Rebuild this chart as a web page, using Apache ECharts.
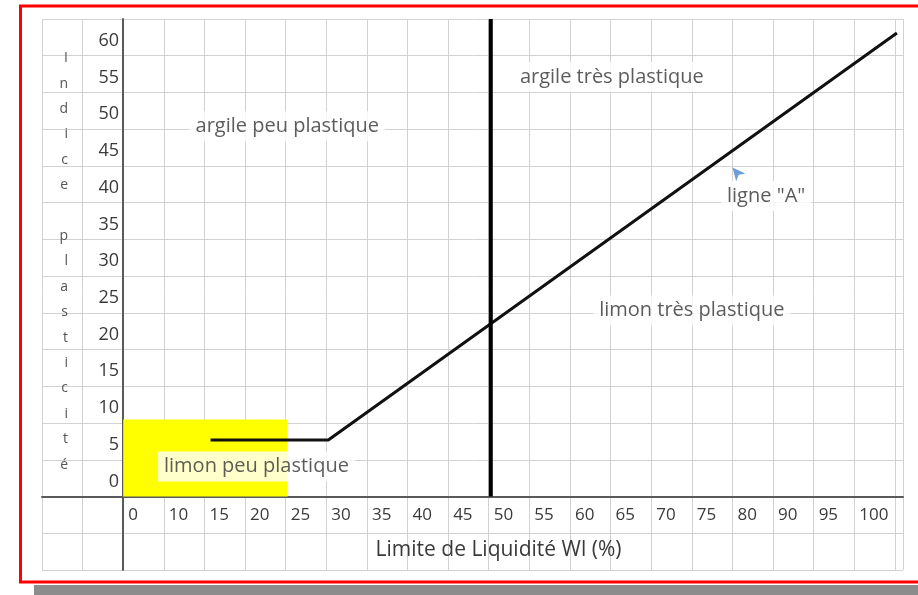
<!DOCTYPE html>
<html>
<head>
<meta charset="utf-8">
<script src="https://cdn.jsdelivr.net/npm/echarts@6/dist/echarts.min.js"></script>
<style>
  html, body { margin: 0; padding: 0; background: #fff; }
  #chart { width: 918px; height: 595px; }
</style>
</head>
<body>
<div id="chart"></div>
<script>
  // colonnes de la feuille : une étiquette par colonne (l'axe x compte les colonnes)
  const xLabels = ['0', '10', '15', '20', '25', '30', '35', '40', '45', '50',
                   '55', '60', '65', '70', '75', '80', '90', '95', '100']
  // étiquettes de l'axe y (indice de plasticité)
  const yLabels = [0, 5, 10, 15, 20, 25, 30, 35, 40, 45, 50, 55, 60]

  // ligne "A" (en colonnes / indice)
  const ligneAX = [2.15, 5.05, 19.05]
  const ligneAY = [7.7, 7.7, 63.1]

  // limite verticale Wl = 50
  const limiteX = [9.05, 9.05]
  const limiteY = [0, 65]

  // zone jaune "limon peu plastique"
  const zoneX = [0, 4.05]
  const zoneY = [0, 10.5]

  // textes des domaines
  const zonesNoms = ['argile peu plastique', 'argile très plastique', 'ligne "A"',
                     'limon très plastique', 'limon peu plastique']
  const zonesX = [4.04, 12.03, 15.83, 14.0, 3.28]
  const zonesY = [50.4, 57.1, 40.9, 25.3, 4.1]

  // petite flèche bleue
  const flecheX = [15.0]
  const flecheY = [44.8]

  const police = "'Open Sans', sans-serif"
  const chart = echarts.init(document.getElementById('chart'))

  // titre vertical, lettre par lettre ; la dernière ligne vide remonte le bloc
  const titreY = 'Indice plasticité'.split('').map(c => c === ' ' ? '' : c).join('\n') + '\n{g| }'

  chart.setOption({
    backgroundColor: '#fff',
    animation: false,
    textStyle: { fontFamily: police },
    graphic: [
      { // cadre rouge
        type: 'rect', z: 100, silent: true,
        shape: { x: 20.5, y: 6, width: 920, height: 576 },
        style: { fill: 'none', stroke: '#ff0000', lineWidth: 3 }
      },
      { // ombre grise en bas
        type: 'rect', z: 100, silent: true,
        shape: { x: 34, y: 585, width: 900, height: 12 },
        style: { fill: '#8c8c8c' }
      }
    ],
    grid: { left: 42, right: 15, top: 19, bottom: 25, containLabel: false, outerBoundsMode: 'none' },
    xAxis: {
      type: 'value',
      min: -2,
      max: 19.2,
      interval: 1,
      name: 'Limite de Liquidité Wl (%)',
      nameLocation: 'middle',
      nameGap: -30,
      nameTextStyle: { fontSize: 21, color: '#3a3a3a', padding: [0, 0, 0, 52] },
      axisLine: { onZero: true, lineStyle: { color: '#5a5a5a', width: 2 } },
      axisTick: { show: false },
      axisLabel: {
        fontSize: 17, color: '#3a3a3a', align: 'left', margin: -63,
        padding: [0, 0, 0, 5],
        formatter: v => Number.isInteger(v) && xLabels[v] !== undefined ? xLabels[v] : ''
      },
      splitLine: { show: true, lineStyle: { color: '#d2d2d2', width: 1 } }
    },
    yAxis: {
      type: 'value',
      min: -10,
      max: 65,
      interval: 5,
      name: titreY,
      nameLocation: 'middle',
      nameRotate: 0,
      nameGap: -26,
      nameTextStyle: {
        fontSize: 14, color: '#555', lineHeight: 25.4,
        rich: { g: { fontSize: 14, lineHeight: 66 } }
      },
      axisLine: { onZero: true, lineStyle: { color: '#5a5a5a', width: 2 } },
      axisTick: { show: false },
      axisLabel: {
        fontSize: 18, color: '#3a3a3a', margin: -77, verticalAlign: 'bottom',
        padding: [0, 0, 6, 0],
        formatter: v => yLabels.includes(v) ? String(v) : ''
      },
      splitLine: { show: true, lineStyle: { color: '#d2d2d2', width: 1 } }
    },
    series: [
      {
        name: 'ligne A',
        type: 'line',
        symbol: 'none',
        silent: true,
        data: ligneAX.map((x, i) => [x, ligneAY[i]]),
        lineStyle: { color: '#111', width: 3 },
        markArea: {
          silent: true,
          itemStyle: { color: '#ffff00' },
          data: [[{ coord: [zoneX[0], zoneY[0]] }, { coord: [zoneX[1], zoneY[1]] }]]
        },
        z: 3
      },
      {
        name: 'Wl 50',
        type: 'line',
        symbol: 'none',
        silent: true,
        data: limiteX.map((x, i) => [x, limiteY[i]]),
        lineStyle: { color: '#000', width: 4 },
        z: 3
      },
      {
        name: 'domaines',
        type: 'scatter',
        symbolSize: 0,
        silent: true,
        data: zonesX.map((x, i) => ({ value: [x, zonesY[i]], name: zonesNoms[i] })),
        label: {
          show: true,
          position: 'inside',
          formatter: p => p.name,
          fontSize: 20,
          color: '#333',
          backgroundColor: '#fff',
          padding: [5, 6]
        },
        z: 4
      },
      {
        name: 'flèche',
        type: 'scatter',
        symbol: 'arrow',
        symbolSize: [9, 13],
        symbolRotate: 40,
        silent: true,
        data: flecheX.map((x, i) => [x, flecheY[i]]),
        itemStyle: { color: '#4a86c8' },
        z: 5
      }
    ]
  })
</script>
</body>
</html>
